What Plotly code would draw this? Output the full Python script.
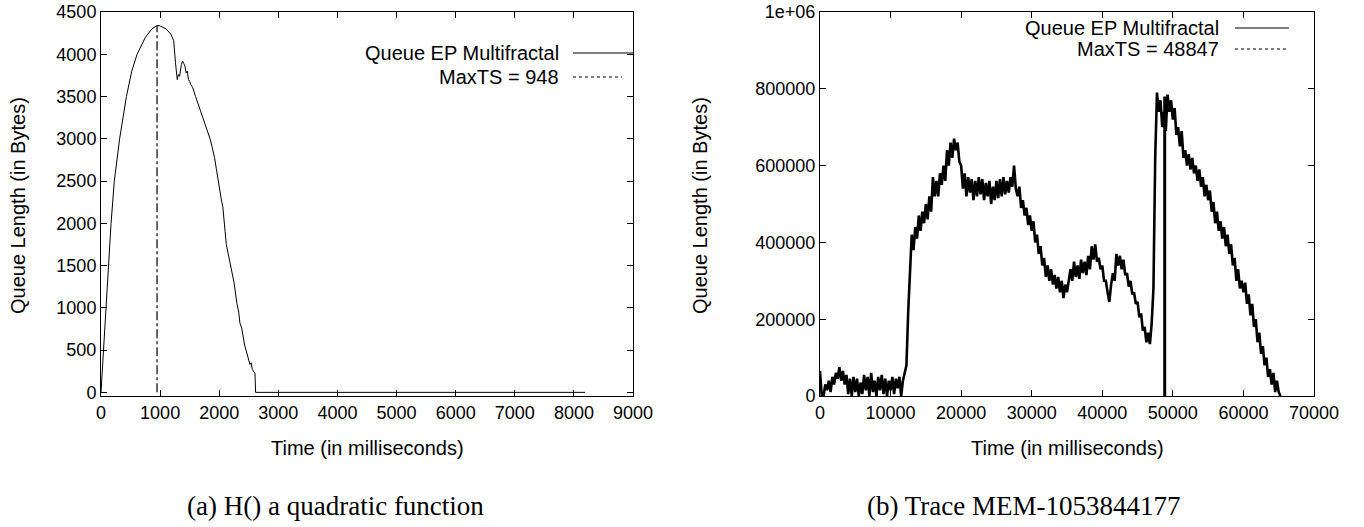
import plotly.graph_objects as go

# (a) H() a quadratic function
t_a = [0, 20, 50, 80, 125, 170, 225, 315, 430, 520, 610, 750, 860, 948, 1000,
       1100, 1180, 1230, 1260, 1290, 1310, 1330, 1360, 1380, 1400, 1420, 1440,
       1460, 1480, 1500, 1520, 1550, 1600, 1700, 1800, 1850, 1880, 1920, 1950,
       1980, 2000, 2020, 2040, 2060, 2080, 2100, 2120, 2160, 2200, 2250, 2300,
       2330, 2350, 2380, 2430, 2460, 2500, 2520, 2540, 2560, 2590, 2605, 2615, 8190]
q_a = [0, 250, 500, 1000, 1500, 2000, 2500, 3000, 3500, 3800, 4000, 4200, 4300,
       4340, 4335, 4300, 4240, 4160, 3900, 3700, 3760, 3740, 3880, 3920, 3890,
       3860, 3780, 3800, 3700, 3680, 3640, 3610, 3500, 3300, 3100, 2990, 2900,
       2780, 2650, 2500, 2450, 2300, 2260, 2200, 2000, 1900, 1750, 1620, 1500,
       1300, 1050, 950, 820, 760, 560, 480, 380, 330, 350, 270, 240, 230, 0, 0]
maxts_a = 948
maxq_a = 4340

# (b) Trace MEM-1053844177, one sample every 250 ms
t_b = list(range(0, 65251, 250))
q_b = [
    65000, 0, 0, 30000, 15000, 40000, 10000, 50000, 30000, 60000,
    45000, 75000, 40000, 65000, 30000, 55000, 5000, 45000, 0, 50000,
    10000, 45000, 0, 35000, 5000, 55000, 15000, 50000, 0, 60000,
    10000, 40000, 0, 50000, 15000, 55000, 5000, 45000, 0, 40000,
    15000, 50000, 5000, 45000, 20000, 50000, 0, 40000, 60000, 80000,
    220000, 330000, 420000, 380000, 440000, 410000, 470000, 430000, 480000, 450000,
    500000, 460000, 520000, 480000, 570000, 520000, 560000, 520000, 580000, 550000,
    600000, 560000, 640000, 600000, 660000, 620000, 670000, 640000, 660000, 610000,
    600000, 540000, 580000, 520000, 570000, 530000, 565000, 510000, 560000, 520000,
    570000, 525000, 565000, 510000, 555000, 520000, 560000, 500000, 545000, 510000,
    560000, 515000, 565000, 520000, 570000, 525000, 560000, 530000, 570000, 545000,
    600000, 540000, 520000, 545000, 490000, 510000, 470000, 490000, 445000, 470000,
    430000, 455000, 400000, 420000, 370000, 390000, 340000, 360000, 310000, 340000,
    300000, 330000, 290000, 315000, 280000, 310000, 270000, 300000, 255000, 290000,
    270000, 300000, 330000, 300000, 350000, 310000, 340000, 305000, 355000, 320000,
    350000, 315000, 365000, 330000, 390000, 355000, 395000, 350000, 360000, 330000,
    340000, 300000, 300000, 270000, 245000, 290000, 320000, 300000, 370000, 340000,
    365000, 330000, 355000, 315000, 320000, 285000, 300000, 265000, 270000, 240000,
    245000, 205000, 215000, 170000, 180000, 140000, 165000, 135000, 190000, 280000,
    620000, 790000, 740000, 770000, 700000, 740000, 690000, 785000, 740000, 770000,
    720000, 750000, 680000, 700000, 650000, 690000, 620000, 640000, 600000, 630000,
    590000, 620000, 580000, 600000, 560000, 590000, 545000, 570000, 520000, 550000,
    510000, 535000, 480000, 505000, 450000, 480000, 430000, 455000, 410000, 440000,
    390000, 420000, 370000, 395000, 340000, 360000, 300000, 330000, 280000, 300000,
    270000, 295000, 240000, 265000, 210000, 240000, 180000, 200000, 140000, 165000,
    110000, 130000, 80000, 100000, 50000, 70000, 30000, 60000, 10000, 40000,
    10000, 0,
]
maxts_b = 48847
maxq_b = 780000

x_ticks_b = [0, 10000, 20000, 30000, 40000, 50000, 60000, 70000]
y_ticks_b = [0, 200000, 400000, 600000, 800000, 1000000]
y_text_b = ["0", "200000", "400000", "600000", "800000", "1e+06"]

SANS = "Liberation Sans"
FS = 18

fig = go.Figure()

fig.add_trace(go.Scatter(x=t_a, y=q_a, mode="lines", line=dict(color="black", width=1),
                         xaxis="x", yaxis="y", showlegend=False))
fig.add_trace(go.Scatter(x=[maxts_a, maxts_a], y=[0, maxq_a], mode="lines",
                         line=dict(color="black", width=1.2, dash="dashdot"),
                         xaxis="x", yaxis="y", showlegend=False))

fig.add_trace(go.Scatter(x=t_b, y=q_b, mode="lines", line=dict(color="black", width=2.6),
                         xaxis="x2", yaxis="y2", showlegend=False))
fig.add_trace(go.Scatter(x=[maxts_b, maxts_b], y=[0, maxq_b], mode="lines",
                         line=dict(color="black", width=3),
                         xaxis="x2", yaxis="y2", showlegend=False))

axis_style = dict(showline=True, linecolor="black", linewidth=1, mirror="ticks",
                  ticks="inside", ticklen=6, tickcolor="black", showgrid=False,
                  zeroline=False, automargin=False,
                  tickfont=dict(family=SANS, size=FS, color="black"))

fig.update_layout(
    width=1364, height=527,
    margin=dict(l=0, r=0, t=0, b=0),
    paper_bgcolor="white", plot_bgcolor="white",
    xaxis=dict(domain=[0.07405, 0.46408], range=[0, 9000], tickvals=list(range(0, 9001, 1000)),
               anchor="y", **axis_style),
    yaxis=dict(domain=[0.24858, 0.97723], range=[-43, 4500], tickvals=list(range(0, 4501, 500)),
               anchor="x", **axis_style),
    xaxis2=dict(domain=[0.60117, 0.96334], range=[0, 70000], tickvals=x_ticks_b,
                ticktext=[str(v) for v in x_ticks_b], anchor="y2", **axis_style),
    yaxis2=dict(domain=[0.24858, 0.97723], range=[0, 1000000], tickvals=y_ticks_b,
                ticktext=y_text_b, anchor="x2", **axis_style),
)

W, H = 1364, 527


def px(x):
    return x / W


def py(y):
    return 1 - y / H


def text(x, y, s, size=FS, family=SANS, xanchor="center", angle=0):
    fig.add_annotation(x=px(x), y=py(y), xref="paper", yref="paper", text=s, showarrow=False,
                       xanchor=xanchor, yanchor="middle", textangle=angle,
                       font=dict(family=family, size=size, color="black"))


def sample(x0, x1, y, dash):
    fig.add_shape(type="line", xref="paper", yref="paper", x0=px(x0), x1=px(x1),
                  y0=py(y), y1=py(y), line=dict(color="black", width=1, dash=dash))


# axis titles
text(18, 206, "Queue Length (in Bytes)", size=20, angle=-90)
text(700, 206, "Queue Length (in Bytes)", size=20, angle=-90)
text(367, 448, "Time (in milliseconds)", size=20)
text(1067, 448, "Time (in milliseconds)", size=20)

# key boxes, gnuplot style: label then sample on the right
text(561, 53, "Queue EP Multifractal", xanchor="right", size=20)
text(561, 77, "MaxTS = 948", xanchor="right", size=20)
sample(573, 633, 53, "solid")
sample(573, 622, 77, "dot")

text(1221, 28, "Queue EP Multifractal", xanchor="right", size=20)
text(1221, 49, "MaxTS = 48847", xanchor="right", size=20)
sample(1235, 1289, 28, "solid")
sample(1235, 1289, 49, "dot")

# sub-captions
text(335, 506, "(a) H() a quadratic function", size=27, family="Liberation Serif")
text(1023, 506, "(b) Trace MEM-1053844177", size=27, family="Liberation Serif")

# drop the default page margin so the figure sits at the window origin
fig.write_html("out.html", config={"displayModeBar": False},
               post_script="document.body.style.margin='0';")
